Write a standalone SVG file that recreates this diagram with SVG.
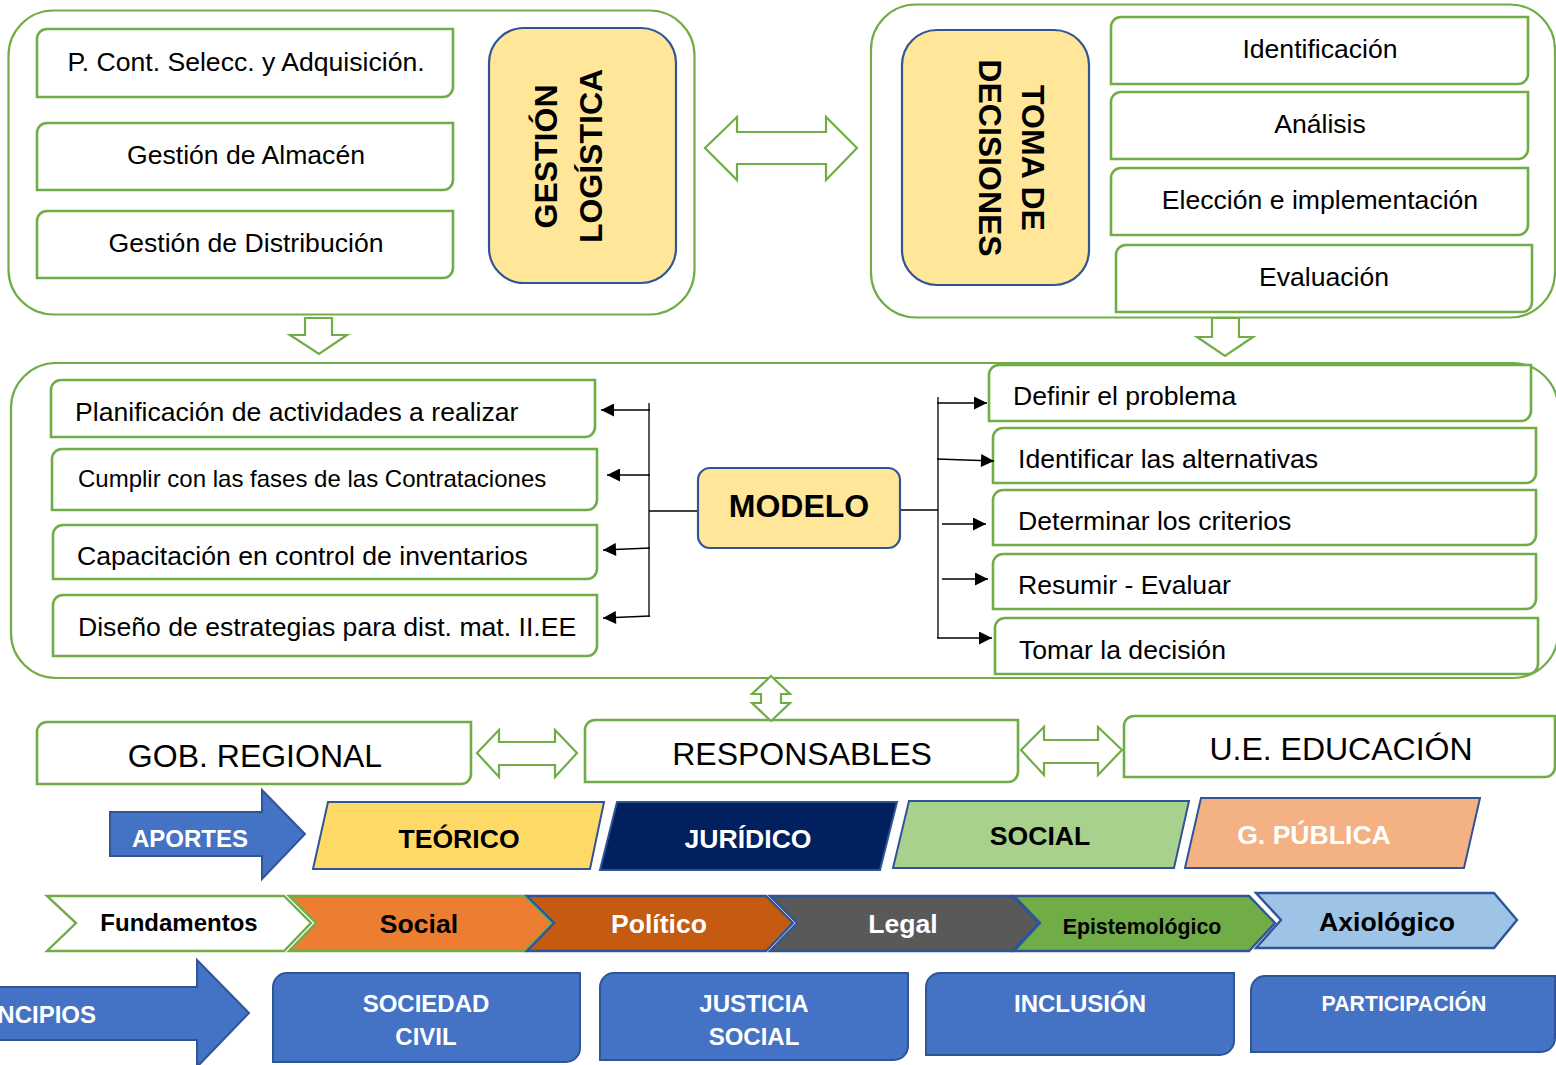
<svg xmlns="http://www.w3.org/2000/svg" width="1556" height="1065" viewBox="0 0 1556 1065">
<defs>
<style>
text{font-family:"Liberation Sans",Arial,sans-serif;fill:#000}
.cont{fill:#fff;stroke:#70AD47;stroke-width:2.2}
.box{fill:#fff;stroke:#70AD47;stroke-width:2.6}
.yel{fill:#FFE699;stroke:#2F5597;stroke-width:2.2}
.blk{fill:#fff;stroke:#70AD47;stroke-width:2.2}
.blue{fill:#4472C4;stroke:#2F5597;stroke-width:2}
.t26{font-size:26.6px}
.t24{font-size:24px}
.t32{font-size:32px}
.b{font-weight:bold}
.w{fill:#fff}
.c{text-anchor:middle}
.conn{stroke:#000;stroke-width:1.3;fill:none}
</style>
<marker id="ah" viewBox="0 0 10 10" refX="10" refY="5" markerWidth="14" markerHeight="13" markerUnits="userSpaceOnUse" orient="auto"><path d="M0,0 L10,5 L0,10 Z" fill="#000"/></marker>
</defs>

<g id="gestion-logistica-group">
<rect class="cont" x="8.5" y="10.5" width="686" height="304" rx="45"/>
<g id="n-pcont"><path class="box" d="M47,29 H453 V87 A10,10 0 0 1 443,97 H37 V39 A10,10 0 0 1 47,29 Z"/><text class="t26 c" x="246" y="70.6">P. Cont. Selecc. y Adquisición.</text></g>
<g id="n-almacen"><path class="box" d="M47,123 H453 V180 A10,10 0 0 1 443,190 H37 V133 A10,10 0 0 1 47,123 Z"/><text class="t26 c" x="246" y="163.6">Gestión de Almacén</text></g>
<g id="n-distribucion"><path class="box" d="M47,211 H453 V268 A10,10 0 0 1 443,278 H37 V221 A10,10 0 0 1 47,211 Z"/><text class="t26 c" x="246" y="251.6">Gestión de Distribución</text></g>
<g id="n-gestion-logistica"><rect class="yel" x="489" y="28" width="187" height="255" rx="35"/>
<text class="t32 b c" transform="translate(545,156.5) rotate(-90)" y="11.5">GESTIÓN</text>
<text class="t32 b c" transform="translate(590,156) rotate(-90)" y="11.5">LOGÍSTICA</text></g>
</g>

<g id="toma-decisiones-group">
<rect class="cont" x="871" y="4.5" width="684" height="313" rx="45"/>
<g id="n-toma"><rect class="yel" x="902" y="30" width="187" height="255" rx="35"/>
<text class="t32 b c" transform="translate(1033,158) rotate(90)" y="11.5">TOMA DE</text>
<text class="t32 b c" transform="translate(990,158) rotate(90)" y="11.5">DECISIONES</text></g>
<g id="n-identificacion"><path class="box" d="M1121,17 H1528 V74 A10,10 0 0 1 1518,84 H1111 V27 A10,10 0 0 1 1121,17 Z"/><text class="t26 c" x="1320" y="57.6">Identificación</text></g>
<g id="n-analisis"><path class="box" d="M1121,92 H1528 V149 A10,10 0 0 1 1518,159 H1111 V102 A10,10 0 0 1 1121,92 Z"/><text class="t26 c" x="1320" y="132.6">Análisis</text></g>
<g id="n-eleccion"><path class="box" d="M1121,168 H1528 V225 A10,10 0 0 1 1518,235 H1111 V178 A10,10 0 0 1 1121,168 Z"/><text class="t26 c" x="1320" y="208.6">Elección e implementación</text></g>
<g id="n-evaluacion"><path class="box" d="M1126,245 H1532 V302 A10,10 0 0 1 1522,312 H1116 V255 A10,10 0 0 1 1126,245 Z"/><text class="t26 c" x="1324" y="285.6">Evaluación</text></g>
</g>

<g id="modelo-group">
<rect class="cont" x="11" y="363" width="1547" height="315" rx="45"/>
<g id="n-planificacion"><path class="box" d="M61,380 H595 V427 A10,10 0 0 1 585,437 H51 V390 A10,10 0 0 1 61,380 Z"/><text class="t26" x="75" y="420.6">Planificación de actividades a realizar</text></g>
<g id="n-cumplir"><path class="box" d="M62,449 H597 V500 A10,10 0 0 1 587,510 H52 V459 A10,10 0 0 1 62,449 Z"/><text class="t24" x="78" y="486.6">Cumplir con las fases de las Contrataciones</text></g>
<g id="n-capacitacion"><path class="box" d="M63,525 H597 V569 A10,10 0 0 1 587,579 H53 V535 A10,10 0 0 1 63,525 Z"/><text class="t26" x="77" y="564.6">Capacitación en control de inventarios</text></g>
<g id="n-diseno"><path class="box" d="M63,595 H597 V646 A10,10 0 0 1 587,656 H53 V605 A10,10 0 0 1 63,595 Z"/><text class="t26" x="78" y="635.6">Diseño de estrategias para dist. mat. II.EE</text></g>
<g id="n-modelo"><rect class="yel" x="698" y="468" width="202" height="80" rx="12"/><text class="t32 b c" x="799" y="516.5">MODELO</text></g>
<g id="n-definir"><path class="box" d="M999,365 H1531 V411 A10,10 0 0 1 1521,421 H989 V375 A10,10 0 0 1 999,365 Z"/><text class="t26" x="1013" y="404.6">Definir el problema</text></g>
<g id="n-identificar"><path class="box" d="M1003,428 H1536 V473 A10,10 0 0 1 1526,483 H993 V438 A10,10 0 0 1 1003,428 Z"/><text class="t26" x="1018" y="467.6">Identificar las alternativas</text></g>
<g id="n-determinar"><path class="box" d="M1003,490 H1536 V535 A10,10 0 0 1 1526,545 H993 V500 A10,10 0 0 1 1003,490 Z"/><text class="t26" x="1018" y="529.6">Determinar los criterios</text></g>
<g id="n-resumir"><path class="box" d="M1003,554 H1536 V599 A10,10 0 0 1 1526,609 H993 V564 A10,10 0 0 1 1003,554 Z"/><text class="t26" x="1018" y="593.6">Resumir - Evaluar</text></g>
<g id="n-tomar"><path class="box" d="M1005,618 H1538 V664 A10,10 0 0 1 1528,674 H995 V628 A10,10 0 0 1 1005,618 Z"/><text class="t26" x="1019" y="658.6">Tomar la decisión</text></g>
</g>

<g id="n-gob"><path class="box" d="M47,722 H471 V774 A10,10 0 0 1 461,784 H37 V732 A10,10 0 0 1 47,722 Z"/><text class="t32 c" x="255" y="766.5">GOB. REGIONAL</text></g>
<g id="n-responsables"><path class="box" d="M595,720 H1018 V772 A10,10 0 0 1 1008,782 H585 V730 A10,10 0 0 1 595,720 Z"/><text class="t32 c" x="802" y="764.5">RESPONSABLES</text></g>
<g id="n-ue"><path class="box" d="M1134,716 H1555 V767 A10,10 0 0 1 1545,777 H1124 V726 A10,10 0 0 1 1134,716 Z"/><text class="t32 c" x="1341" y="759.5">U.E. EDUCACIÓN</text></g>

<g id="n-aportes"><path class="blue" d="M110,812 H262 V790 L305,834 L262,879 V856 H110 Z"/><text class="t24 b w c" x="190" y="846.6">APORTES</text></g>
<g id="n-teorico"><path d="M328,802 H604 L590,869 H313 Z" fill="#FFD966" stroke="#2F5597" stroke-width="2"/><text class="t26 b c" x="459" y="847.6">TEÓRICO</text></g>
<g id="n-juridico"><path d="M617,802 H897 L880,870 H600 Z" fill="#002060" stroke="#2F5597" stroke-width="2"/><text class="t26 b w c" x="748" y="847.6">JURÍDICO</text></g>
<g id="n-social-ap"><path d="M909,801 H1189 L1174,868 H893 Z" fill="#A9D18E" stroke="#2F5597" stroke-width="2"/><text class="t26 b c" x="1040" y="844.6">SOCIAL</text></g>
<g id="n-gpublica"><path d="M1201,798 H1480 L1464,868 H1185 Z" fill="#F4B183" stroke="#2F5597" stroke-width="2"/><text class="t26 b w c" x="1314" y="843.6">G. PÚBLICA</text></g>

<g id="n-fundamentos"><path d="M47,896 H284 L311,923 L284,951 H47 L76,923 Z" fill="#fff" stroke="#70AD47" stroke-width="2.4"/><text class="t24 b c" x="179" y="930.6">Fundamentos</text></g>
<g id="n-social-f"><path d="M289,896 H525 L552,923 L525,951 H289 L316,923 Z" fill="#ED7D31" stroke="#70AD47" stroke-width="2.4"/><text class="t26 b c" x="419" y="932.6">Social</text></g>
<g id="n-politico"><path d="M527,896 H766 L793,923 L766,951 H527 L554,923 Z" fill="#C55A11" stroke="#2F5597" stroke-width="2.4"/><text class="t26 b w c" x="659" y="932.6">Político</text></g>
<g id="n-legal"><path d="M770,896 H1012 L1039,923 L1012,951 H770 L797,923 Z" fill="#595959" stroke="#2F5597" stroke-width="2.4"/><text class="t26 b w c" x="903" y="932.6">Legal</text></g>
<g id="n-epistemologico"><path d="M1014,896 H1249 L1275,923 L1249,951 H1014 L1040,923 Z" fill="#70AD47" stroke="#2F5597" stroke-width="2.4"/><text class="b c" style="font-size:21.3px" x="1142" y="933.7">Epistemológico</text></g>
<g id="n-axiologico"><path d="M1256,893 H1494 L1517,920 L1494,948 H1256 L1281,920 Z" fill="#9DC3E6" stroke="#2F5597" stroke-width="2.4"/><text class="t26 b c" x="1387" y="930.6">Axiológico</text></g>

<g id="n-principios"><path class="blue" d="M-5,987 H197 V960 L249,1013 L197,1067 V1040 H-5 Z"/><text class="t24 b w" text-anchor="end" x="96" y="1022.6">PRINCIPIOS</text></g>
<g id="n-sociedad"><path class="blue" d="M287,973 H580 V1048 A14,14 0 0 1 566,1062 H273 V987 A14,14 0 0 1 287,973 Z"/><text class="t24 b w c" x="426" y="1011.6">SOCIEDAD</text><text class="t24 b w c" x="426" y="1044.6">CIVIL</text></g>
<g id="n-justicia"><path class="blue" d="M614,973 H908 V1046 A14,14 0 0 1 894,1060 H600 V987 A14,14 0 0 1 614,973 Z"/><text class="t24 b w c" x="754" y="1011.6">JUSTICIA</text><text class="t24 b w c" x="754" y="1044.6">SOCIAL</text></g>
<g id="n-inclusion"><path class="blue" d="M940,973 H1234 V1041 A14,14 0 0 1 1220,1055 H926 V987 A14,14 0 0 1 940,973 Z"/><text class="t24 b w c" x="1080" y="1011.6">INCLUSIÓN</text></g>
<g id="n-participacion"><path class="blue" d="M1265,976 H1555 V1038 A14,14 0 0 1 1541,1052 H1251 V990 A14,14 0 0 1 1265,976 Z"/><text class="b w c" style="font-size:21.3px" x="1404" y="1010.7">PARTICIPACIÓN</text></g>

<g id="connectors">
<path class="blk" d="M705,148 L737,117 L737,132 L826,132 L826,117 L857,148 L826,180 L826,164 L737,164 L737,180 Z"/>
<path class="blk" d="M305,318 H332 V335 H347 L319,354 L290,335 H305 Z"/>
<path class="blk" d="M1212,318 H1239 V337 H1253 L1225,356 L1197,337 H1212 Z"/>
<path class="blk" d="M771,676 L790,694 H781 V703 H790 L771,721 L752,703 H761 V694 H752 Z"/>
<path class="blk" d="M477,753 L499,730 V742 H555 V730 L577,753 L555,777 V765 H499 V777 Z"/>
<path class="blk" d="M1021,750 L1044,727 V740 H1098 V727 L1122,750 L1098,775 V763 H1044 V775 Z"/>
<line class="conn" x1="697" y1="511" x2="649" y2="511"/>
<line class="conn" x1="649" y1="403" x2="649" y2="617"/>
<line class="conn" x1="650" y1="410" x2="601" y2="410" marker-end="url(#ah)"/>
<line class="conn" x1="650" y1="475" x2="607" y2="475" marker-end="url(#ah)"/>
<line class="conn" x1="650" y1="548" x2="603" y2="550" marker-end="url(#ah)"/>
<line class="conn" x1="650" y1="616" x2="603" y2="618" marker-end="url(#ah)"/>
<line class="conn" x1="901" y1="510" x2="938" y2="510"/>
<line class="conn" x1="938" y1="397" x2="938" y2="638"/>
<line class="conn" x1="937" y1="403" x2="987" y2="403" marker-end="url(#ah)"/>
<line class="conn" x1="937" y1="459" x2="994" y2="461" marker-end="url(#ah)"/>
<line class="conn" x1="942" y1="524" x2="986" y2="524" marker-end="url(#ah)"/>
<line class="conn" x1="942" y1="579" x2="988" y2="579" marker-end="url(#ah)"/>
<line class="conn" x1="937" y1="638" x2="992" y2="638" marker-end="url(#ah)"/>
</g>
</svg>
